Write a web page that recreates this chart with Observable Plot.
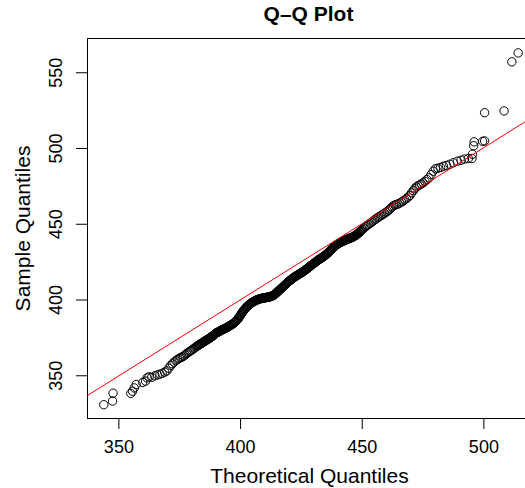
<!DOCTYPE html>
<html>
<head>
<meta charset="utf-8">
<script src="https://cdn.jsdelivr.net/npm/d3@7"></script>
<script src="https://cdn.jsdelivr.net/npm/@observablehq/plot@0.6"></script>
<style>
  html, body { margin: 0; padding: 0; background: white; }
</style>
</head>
<body>
<div id="chart"></div>
<script>
const title = "Q–Q Plot";
const xLabel = "Theoretical Quantiles";
const yLabel = "Sample Quantiles";
const xTicks = [350, 400, 450, 500];
const yTicks = [350, 400, 450, 500, 550];
const xDomain = [337.1, 517.1];
const yDomain = [321.8, 572.6];

// reference line (qqline) end points
const lineX = [337.1, 517.1];
const lineY = [337.0, 517.8];

// theoretical quantiles (x) and sample quantiles (y)
const theoretical = [
  343.8, 347.4, 347.6, 354.9, 355.6, 356.3, 357.1, 359.8, 361.0, 361.6,
  362.4, 363.5, 364.8, 365.9, 366.9, 367.8, 368.8, 369.7, 370.5, 371.3,
  372.0, 372.7, 373.4, 374.1, 374.8, 375.4, 376.0, 376.6, 377.2, 377.8,
  378.4, 379.0, 379.5, 380.0, 380.5, 381.0, 381.5,
  382.0, 382.5, 383.0, 383.5, 384.0, 384.5, 385.0, 385.5, 386.0, 386.5,
  387.0, 387.5, 388.0, 388.5, 389.0, 389.5,
  390.0, 390.5, 391.0, 391.5, 392.0, 392.5, 393.0, 393.5, 394.0, 394.5,
  395.0, 395.5, 396.0, 396.5, 397.0, 397.5, 398.0, 398.5, 399.0, 399.5,
  400.0, 400.5, 401.0, 401.5, 402.0, 402.5, 403.0, 403.5, 404.0, 404.5,
  405.0, 405.5, 406.0, 406.5, 407.0, 407.5, 408.0, 408.5, 409.0, 409.5,
  410.0, 410.5, 411.0, 411.5, 412.0, 412.5, 413.0, 413.5, 414.0, 414.5,
  415.0, 415.5, 416.0, 416.5, 417.0, 417.5, 418.0, 418.5, 419.0, 419.5,
  420.0, 420.5, 421.0, 421.5, 422.0, 422.5, 423.0, 423.5, 424.0, 424.5,
  425.0, 425.5, 426.0, 426.5, 427.0, 427.5, 428.0, 428.5, 429.0, 429.5,
  430.0, 430.5, 431.0, 431.5, 432.0, 432.5, 433.0, 433.5, 434.0, 434.5,
  435.0, 435.5, 436.0, 436.5, 437.0, 437.5, 438.0, 438.5, 439.0, 439.5,
  440.0, 440.5, 441.0, 441.5, 442.0, 442.5, 443.0, 443.5, 444.0, 444.5,
  445.0, 445.5, 446.0, 446.5, 447.0, 447.5, 448.0, 448.5, 449.0, 449.5,
  450.2, 450.8, 451.4, 452.0, 452.6, 453.2, 453.8, 454.4, 455.0, 455.6,
  456.2, 456.8, 457.4, 458.0, 458.6, 459.2, 459.8, 460.4, 461.0, 461.6,
  462.2, 462.8, 463.4, 464.0, 464.7, 465.4, 466.1, 466.8, 467.5, 468.2,
  468.9, 469.6,
  470.3, 471.0, 471.6, 472.2, 472.9, 473.6, 474.3, 475.0, 475.8, 476.6,
  477.4, 478.3, 479.2, 480.1, 481.1, 482.2, 483.4, 484.6, 486.0, 487.5,
  489.1, 490.6, 492.0, 493.6, 495.1, 495.3, 495.8, 496.0, 499.5, 500.3,
  500.3, 508.3, 511.5, 514.1
];
const sample = [
  330.9, 333.3, 338.5, 338.4, 339.8, 342.0, 344.2, 345.6, 346.5, 348.6,
  349.3, 349.0, 350.0, 350.6, 351.1, 351.6, 352.4, 353.2, 355.0, 356.8,
  357.9, 359.0, 360.0, 360.8, 361.5, 362.0, 362.4, 363.0, 363.8, 364.6,
  365.3, 366.0, 366.5, 367.0, 367.6, 368.2, 368.8,
  369.4, 369.9, 370.5, 371.0, 371.4, 372.0, 372.5, 373.0, 373.6, 374.0,
  374.5, 375.1, 375.6, 376.2, 376.9, 377.6,
  378.3, 378.6, 379.0, 379.5, 380.0, 380.4, 380.8, 381.1, 381.5, 382.0,
  382.4, 382.9, 383.4, 383.9, 384.5, 385.2, 386.0, 386.8, 387.6, 388.8,
  390.0, 391.3, 392.5, 393.5, 394.5, 395.4, 396.2, 396.9, 397.5, 398.1,
  398.6, 399.1, 399.5, 399.9, 400.2, 400.5, 400.8, 401.0, 401.2, 401.3,
  401.5, 401.6, 401.8, 401.9, 402.1, 402.4, 402.7, 403.1, 403.6, 404.3,
  405.0, 405.8, 406.6, 407.3, 408.1, 408.8, 409.6, 410.3, 411.1, 411.8,
  412.5, 413.1, 413.8, 414.4, 415.0, 415.5, 416.0, 416.5, 417.0, 417.5,
  418.0, 418.5, 419.1, 419.7, 420.3, 420.9, 421.6, 422.2, 422.8, 423.4,
  424.0, 424.6, 425.3, 425.9, 426.5, 427.0, 427.5, 428.0, 428.6, 429.2,
  429.8, 430.5, 431.2, 432.0, 432.9, 433.7, 434.5, 435.2, 435.9, 436.5,
  437.0, 437.5, 438.0, 438.4, 438.8, 439.1, 439.5, 439.8, 440.2, 440.5,
  440.8, 441.1, 441.5, 441.9, 442.4, 442.9, 443.5, 444.2, 445.0, 445.7,
  446.8, 447.6, 448.4, 449.2, 449.9, 450.6, 451.3, 452.0, 452.8, 453.5,
  454.2, 454.8, 455.4, 456.0, 456.6, 457.3, 457.9, 458.6, 459.4, 460.3,
  461.3, 462.2, 462.7, 463.0, 463.4, 464.0, 464.6, 465.3, 466.2, 467.0,
  467.9, 469.0,
  470.8, 472.2, 473.5, 474.6, 475.4, 476.0, 476.6, 477.4, 478.3, 479.5,
  480.6, 482.8, 485.0, 486.6, 487.0, 487.5, 488.3, 488.8, 489.6, 490.6,
  491.6, 492.2, 493.0, 493.4, 493.4, 496.2, 501.8, 504.4, 504.7, 505.0,
  523.6, 524.8, 557.2, 563.1
];

// additional points read in the dense (solid) middle part of the band
const theoreticalDense = [
  382.25, 382.75, 383.25, 383.75, 384.25, 384.75, 385.25, 385.75, 386.25, 386.75,
  387.25, 387.75, 388.25, 388.75, 389.25, 389.75,
  390.25, 390.75, 391.25, 391.75, 392.25, 392.75, 393.25, 393.75, 394.25, 394.75,
  395.25, 395.75, 396.25, 396.75, 397.25, 397.75, 398.25, 398.75, 399.25, 399.75,
  400.25, 400.75, 401.25, 401.75, 402.25, 402.75, 403.25, 403.75, 404.25, 404.75,
  405.25, 405.75, 406.25, 406.75, 407.25, 407.75, 408.25, 408.75, 409.25, 409.75,
  410.25, 410.75, 411.25, 411.75, 412.25, 412.75, 413.25, 413.75, 414.25, 414.75,
  415.25, 415.75, 416.25, 416.75, 417.25, 417.75, 418.25, 418.75, 419.25, 419.75,
  420.25, 420.75, 421.25, 421.75, 422.25, 422.75, 423.25, 423.75, 424.25, 424.75,
  425.25, 425.75, 426.25, 426.75, 427.25, 427.75, 428.25, 428.75, 429.25, 429.75,
  430.25, 430.75, 431.25, 431.75, 432.25, 432.75, 433.25, 433.75, 434.25, 434.75,
  435.25, 435.75, 436.25, 436.75, 437.25, 437.75, 438.25, 438.75, 439.25, 439.75,
  440.25, 440.75, 441.25, 441.75, 442.25, 442.75, 443.25, 443.75, 444.25, 444.75,
  445.25, 445.75, 446.25, 446.75, 447.25, 447.75, 448.25, 448.75, 449.25, 449.75
];
const sampleDense = [
  369.7, 370.2, 370.8, 371.2, 371.7, 372.3, 372.8, 373.3, 373.8, 374.3,
  374.8, 375.4, 375.9, 376.6, 377.3, 378.0,
  378.5, 378.8, 379.3, 379.8, 380.2, 380.6, 381.0, 381.3, 381.8, 382.2,
  382.7, 383.2, 383.7, 384.2, 384.9, 385.6, 386.4, 387.2, 388.2, 389.4,
  390.7, 391.9, 393.0, 394.0, 395.0, 395.8, 396.6, 397.2, 397.8, 398.4,
  398.9, 399.3, 399.7, 400.1, 400.4, 400.7, 400.9, 401.1, 401.3, 401.4,
  401.6, 401.7, 401.9, 402.0, 402.3, 402.6, 402.9, 403.4, 404.0, 404.7,
  405.4, 406.2, 407.0, 407.7, 408.5, 409.2, 410.0, 410.7, 411.5, 412.2,
  412.8, 413.5, 414.1, 414.7, 415.3, 415.8, 416.3, 416.8, 417.3, 417.8,
  418.3, 418.8, 419.4, 420.0, 420.6, 421.3, 421.9, 422.5, 423.1, 423.7,
  424.3, 425.0, 425.6, 426.2, 426.8, 427.3, 427.8, 428.3, 428.9, 429.5,
  430.2, 430.9, 431.6, 432.5, 433.3, 434.1, 434.9, 435.6, 436.2, 436.8,
  437.3, 437.8, 438.2, 438.6, 439.0, 439.3, 439.7, 440.0, 440.4, 440.7,
  441.0, 441.3, 441.7, 442.2, 442.7, 443.2, 443.9, 444.6, 445.4, 446.2
];

const n = Math.min(theoretical.length, sample.length);
const nd = Math.min(theoreticalDense.length, sampleDense.length);
const points = d3.range(n).map(i => ({x: theoretical[i], y: sample[i]}))
  .concat(d3.range(nd).map(i => ({x: theoreticalDense[i], y: sampleDense[i]})));
const refLine = lineX.map((x, i) => ({x, y: lineY[i]}));

const font = "'Liberation Sans', Arial, Helvetica, sans-serif";

const chart = Plot.plot({
  width: 525,
  height: 488,
  marginLeft: 87,
  marginRight: 0,
  marginTop: 38,
  marginBottom: 70,
  style: {fontFamily: font, fontSize: "18px", background: "white", color: "black"},
  x: {domain: xDomain},
  y: {domain: yDomain},
  marks: [
    // box (top, bottom, left)
    Plot.ruleY([yDomain[1]], {stroke: "black", strokeWidth: 1}),
    Plot.ruleY([yDomain[0]], {stroke: "black", strokeWidth: 1}),
    Plot.ruleX([xDomain[0]], {stroke: "black", strokeWidth: 1}),
    Plot.axisX({ticks: xTicks, tickSize: 11, tickPadding: 11, label: null, fontSize: 18, stroke: "black", strokeOpacity: 1}),
    Plot.axisY({ticks: yTicks, tickSize: 11, tickFormat: () => "", label: null, stroke: "black", strokeOpacity: 1}),
    Plot.text(yTicks, {y: d => d, frameAnchor: "left", dx: -31, rotate: -90, text: d => String(d), fontSize: 18, textAnchor: "middle", lineAnchor: "middle", fill: "black"}),
    Plot.dot(points, {x: "x", y: "y", r: 4.2, stroke: "black", strokeWidth: 1, fill: "none"}),
    Plot.line(refLine, {x: "x", y: "y", stroke: "red", strokeWidth: 1}),
    Plot.text([title], {frameAnchor: "top", dy: -24, dx: 2, fontSize: 21, fontWeight: "bold", textAnchor: "middle", lineAnchor: "middle", fill: "black"}),
    Plot.text([xLabel], {frameAnchor: "bottom", dy: 58, dx: 3, fontSize: 21, textAnchor: "middle", lineAnchor: "middle", fill: "black"}),
    Plot.text([yLabel], {frameAnchor: "left", dx: -64, rotate: -90, fontSize: 21, textAnchor: "middle", lineAnchor: "middle", fill: "black"})
  ]
});
document.getElementById("chart").appendChild(chart);
</script>
</body>
</html>
